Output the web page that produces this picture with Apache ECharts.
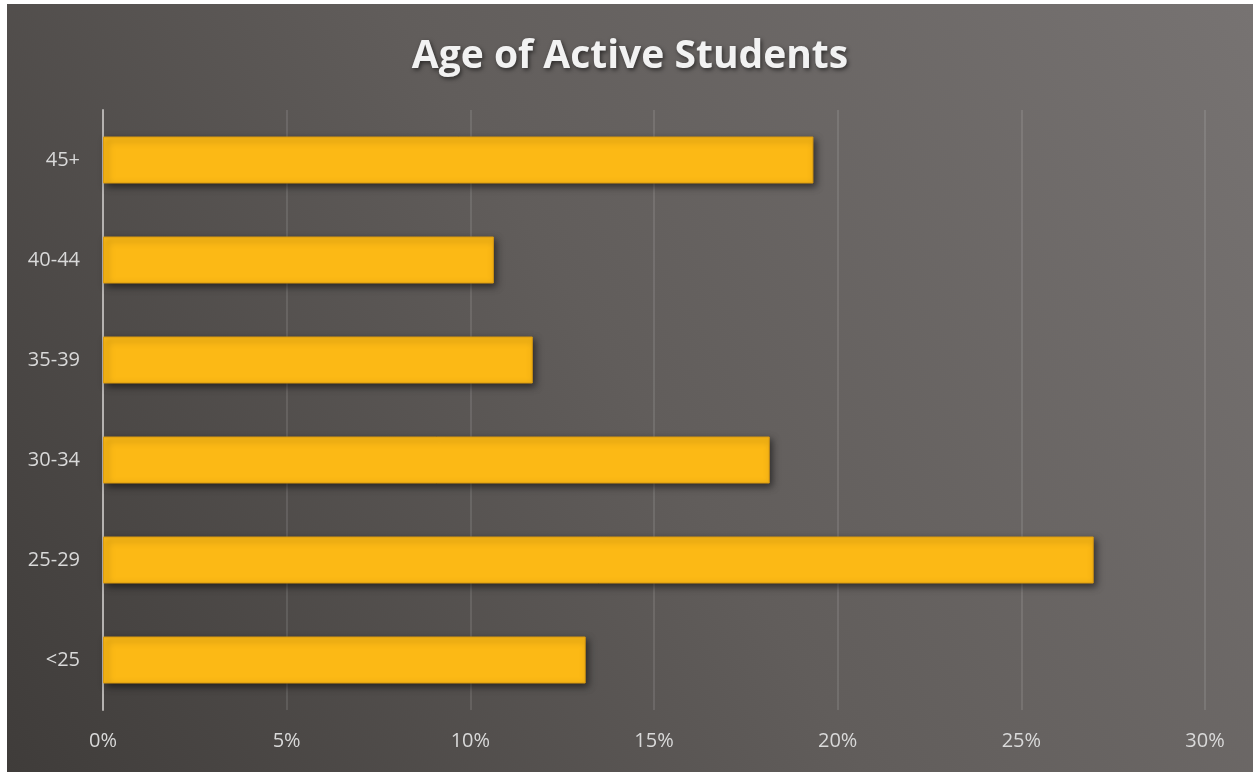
<!DOCTYPE html>
<html>
<head>
<meta charset="utf-8">
<script src="https://cdn.jsdelivr.net/npm/echarts@6/dist/echarts.min.js"></script>
<style>
  html, body { margin: 0; padding: 0; background: #ffffff; width: 1253px; height: 772px; overflow: hidden; }
  #chart { position: absolute; left: 7px; top: 4px; width: 1246px; height: 768px; }
</style>
</head>
<body>
<div id="chart"></div>
<script>
const titleText = 'Age of Active Students';
const categories = ['<25', '25-29', '30-34', '35-39', '40-44', '45+'];
const values = [13.14, 26.97, 18.15, 11.70, 10.64, 19.34];
const xTicks = [0, 5, 10, 15, 20, 25, 30];

const chart = echarts.init(document.getElementById('chart'), null, { renderer: 'canvas' });
const option = {
  backgroundColor: new echarts.graphic.LinearGradient(0, 1, 1, 0, [
    { offset: 0, color: '#3f3c3a' },
    { offset: 0.5, color: '#615d5b' },
    { offset: 1, color: '#777372' }
  ]),
  animation: false,
  title: {
    text: titleText,
    left: 'center',
    top: 28,
    textStyle: {
      fontFamily: 'Open Sans',
      fontWeight: 'bold',
      fontSize: 39,
      color: '#f2f2f2',
      textShadowColor: 'rgba(0,0,0,0.55)',
      textShadowBlur: 4,
      textShadowOffsetX: 1.5,
      textShadowOffsetY: 2
    }
  },
  grid: { left: 96, right: 48, top: 106, bottom: 62, containLabel: false },
  xAxis: {
    type: 'value',
    min: xTicks[0],
    max: xTicks[xTicks.length - 1],
    interval: 5,
    axisLine: { show: false },
    axisTick: { show: false },
    axisLabel: {
      color: '#d9d9d9',
      fontFamily: 'Open Sans',
      fontSize: 20,
      margin: 21,
      formatter: v => v + '%'
    },
    splitLine: { show: true, lineStyle: { color: 'rgba(255,255,255,0.14)', width: 1.5 } }
  },
  yAxis: {
    type: 'category',
    data: categories,
    axisLine: { show: true, lineStyle: { color: '#b5b2b0', width: 2 } },
    axisTick: { show: false },
    axisLabel: {
      color: '#d9d9d9',
      fontFamily: 'Open Sans',
      fontSize: 20,
      margin: 23
    },
    splitLine: { show: false }
  },
  series: [{
    type: 'bar',
    data: values,
    barWidth: '47%',
    itemStyle: {
      color: '#fcb915',
      borderColor: '#d99a12',
      borderWidth: 1,
      shadowColor: 'rgba(0,0,0,0.55)',
      shadowBlur: 7,
      shadowOffsetX: 3,
      shadowOffsetY: 3
    }
  }]
};
chart.setOption(option);
</script>
</body>
</html>
